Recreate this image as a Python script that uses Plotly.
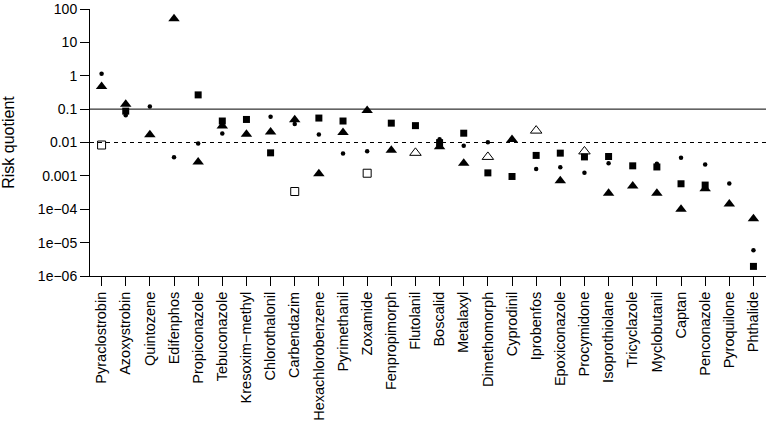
import plotly.graph_objects as go

categories = ["Pyraclostrobin", "Azoxystrobin", "Quintozene", "Edifenphos", "Propiconazole",
              "Tebuconazole", "Kresoxim\u2212methyl", "Chlorothalonil", "Carbendazim",
              "Hexachlorobenzene", "Pyrimethanil", "Zoxamide", "Fenpropimorph", "Flutolanil",
              "Boscalid", "Metalaxyl", "Dimethomorph", "Cyprodinil", "Iprobenfos",
              "Epoxiconazole", "Procymidone", "Isoprothiolane", "Tricyclazole", "Myclobutanil",
              "Captan", "Penconazole", "Pyroquilone", "Phthalide"]

circle_vals = [1.15, 0.065, 0.12, 0.0036, 0.0093, 0.0185, None, 0.059, 0.036, 0.0173,
               0.0047, 0.0055, None, None, 0.0125, 0.008, 0.0102, None, 0.0016, 0.0018,
               0.00123, 0.0024, None, 0.0023, 0.0035, 0.0022, 0.00059, 5.9e-6]

triangle_vals = [0.48, 0.14, 0.017, 51, 0.0026, 0.031, 0.0177, 0.0207, 0.048, 0.00115,
                 0.0198, 0.091, 0.0059, None, 0.0075, 0.0024, None, 0.0123, None, 0.00071,
                 None, 0.0003, 0.0005, 0.0003, 0.0001, 0.00041, 0.000144, 5.2e-5]

square_vals = [None, 0.087, None, None, 0.267, 0.044, 0.049, 0.0049, None, 0.054,
               0.044, None, 0.038, 0.032, 0.0099, 0.019, 0.00123, 0.00096, 0.0041, 0.0048,
               0.0037, 0.0038, 0.002, 0.00185, 0.00058, 0.00053, None, 1.94e-6]

open_square_vals = [0.0084, None, None, None, None, None, None, None, 0.00034, None,
                    None, 0.0012, None, None, None, None, None, None, None, None,
                    None, None, None, None, None, None, None, None]

open_triangle_vals = [None, None, None, None, None, None, None, None, None, None,
                      None, None, None, 0.0049, None, None, 0.0037, None, 0.0227, None,
                      0.0054, None, None, None, None, None, None, None]

y_tickvals = [1e-6, 1e-5, 1e-4, 1e-3, 1e-2, 0.1, 1, 10, 100]
y_ticktext = ["1e\u221206", "1e\u221205", "1e\u221204", "0.001", "0.01", "0.1", "1", "10", "100"]

x = list(range(len(categories)))
FONT = "Liberation Sans, Arial, Helvetica, sans-serif"

fig = go.Figure()

def add(vals, symbol, size, line_w=0):
    fig.add_trace(go.Scatter(
        x=x, y=vals, mode="markers", cliponaxis=False, showlegend=False,
        marker=dict(symbol=symbol, size=size, color="black",
                    line=dict(color="black", width=line_w))))

add(open_square_vals, "square-open", 8, 1)
add(open_triangle_vals, "triangle-up-open", 10, 1)
add(square_vals, "square", 7)
add(triangle_vals, "triangle-up", 10)
add(circle_vals, "circle", 4.5)

fig.add_hline(y=0.1, line=dict(color="black", width=1))
fig.add_hline(y=0.01, line=dict(color="black", width=1, dash="4px,4px"))

fig.update_layout(
    width=766, height=422,
    margin=dict(l=90, r=0, t=9, b=146),
    paper_bgcolor="white", plot_bgcolor="white",
    font=dict(family=FONT, size=14, color="black"),
)
fig.update_xaxes(
    range=[-0.48, 27.52], tickvals=x, ticktext=categories, tickangle=-90,
    showgrid=False, zeroline=False, showline=True, linecolor="black", linewidth=1,
    ticks="outside", ticklen=9, tickcolor="black", tickfont=dict(size=14.5, family=FONT),
    automargin=False, ticklabeloverflow="allow",
)
fig.update_yaxes(
    type="log", range=[-6, 2], tickvals=y_tickvals, ticktext=y_ticktext,
    showgrid=False, zeroline=False, showline=True, linecolor="black", linewidth=1,
    ticks="outside", ticklen=9, tickcolor="black", tickfont=dict(size=14, family=FONT),
    title=dict(text="Risk quotient", font=dict(size=16, family=FONT), standoff=19),
    automargin=False, ticklabeloverflow="allow",
)

fig.write_html("out.html", config={"displayModeBar": False},
               post_script="document.body.style.margin='0';document.body.style.padding='0';")
